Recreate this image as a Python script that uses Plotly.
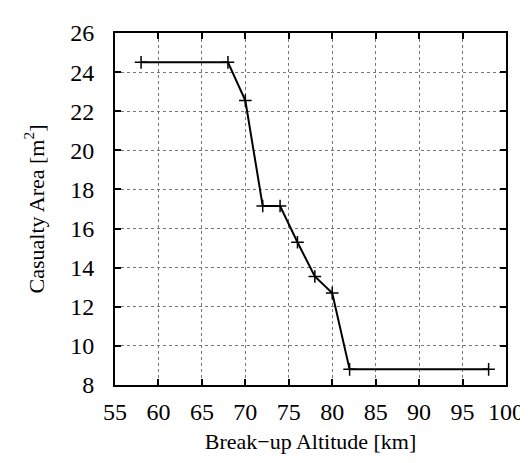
import plotly.graph_objects as go

altitude_km = [58, 68, 70, 72, 74, 76, 78, 80, 82, 98]
casualty_area = [24.5, 24.5, 22.55, 17.15, 17.15, 15.3, 13.55, 12.7, 8.8, 8.8]

x_ticks = [55, 60, 65, 70, 75, 80, 85, 90, 95, 100]
y_ticks = [8, 10, 12, 14, 16, 18, 20, 22, 24, 26]

font_family = "Liberation Serif, Times New Roman, serif"

fig = go.Figure()
fig.add_trace(go.Scatter(
    x=altitude_km, y=casualty_area,
    mode="lines+markers",
    line=dict(color="black", width=2),
    marker=dict(symbol="cross-thin", size=9, line=dict(color="black", width=1.5)),
    showlegend=False,
))

axis_common = dict(
    showline=True, linecolor="black", linewidth=2, mirror="ticks",
    ticks="inside", ticklen=6, tickwidth=2, tickcolor="black",
    showgrid=True, gridcolor="#777", gridwidth=1, griddash="dot",
    zeroline=False,
    tickfont=dict(family=font_family, size=24, color="black"),
)

fig.update_xaxes(
    range=[55, 100], tickvals=x_ticks, ticktext=[str(v) for v in x_ticks],
    title=dict(text="Break\u2212up Altitude [km]", font=dict(family=font_family, size=22, color="black"), standoff=10),
    ticklabelstandoff=4,
    **axis_common,
)
fig.update_yaxes(
    range=[8, 26], tickvals=y_ticks, ticktext=[str(v) for v in y_ticks],
    title=dict(text="Casualty Area [m<sup>2</sup>]", font=dict(family=font_family, size=22, color="black"), standoff=20),
    ticklabelstandoff=14,
    **axis_common,
)

fig.update_layout(
    width=528, height=463,
    margin=dict(l=107, r=25, t=23, b=86),
    paper_bgcolor="white", plot_bgcolor="white",
    font=dict(family=font_family, color="black"),
)

fig.write_html("out.html")
